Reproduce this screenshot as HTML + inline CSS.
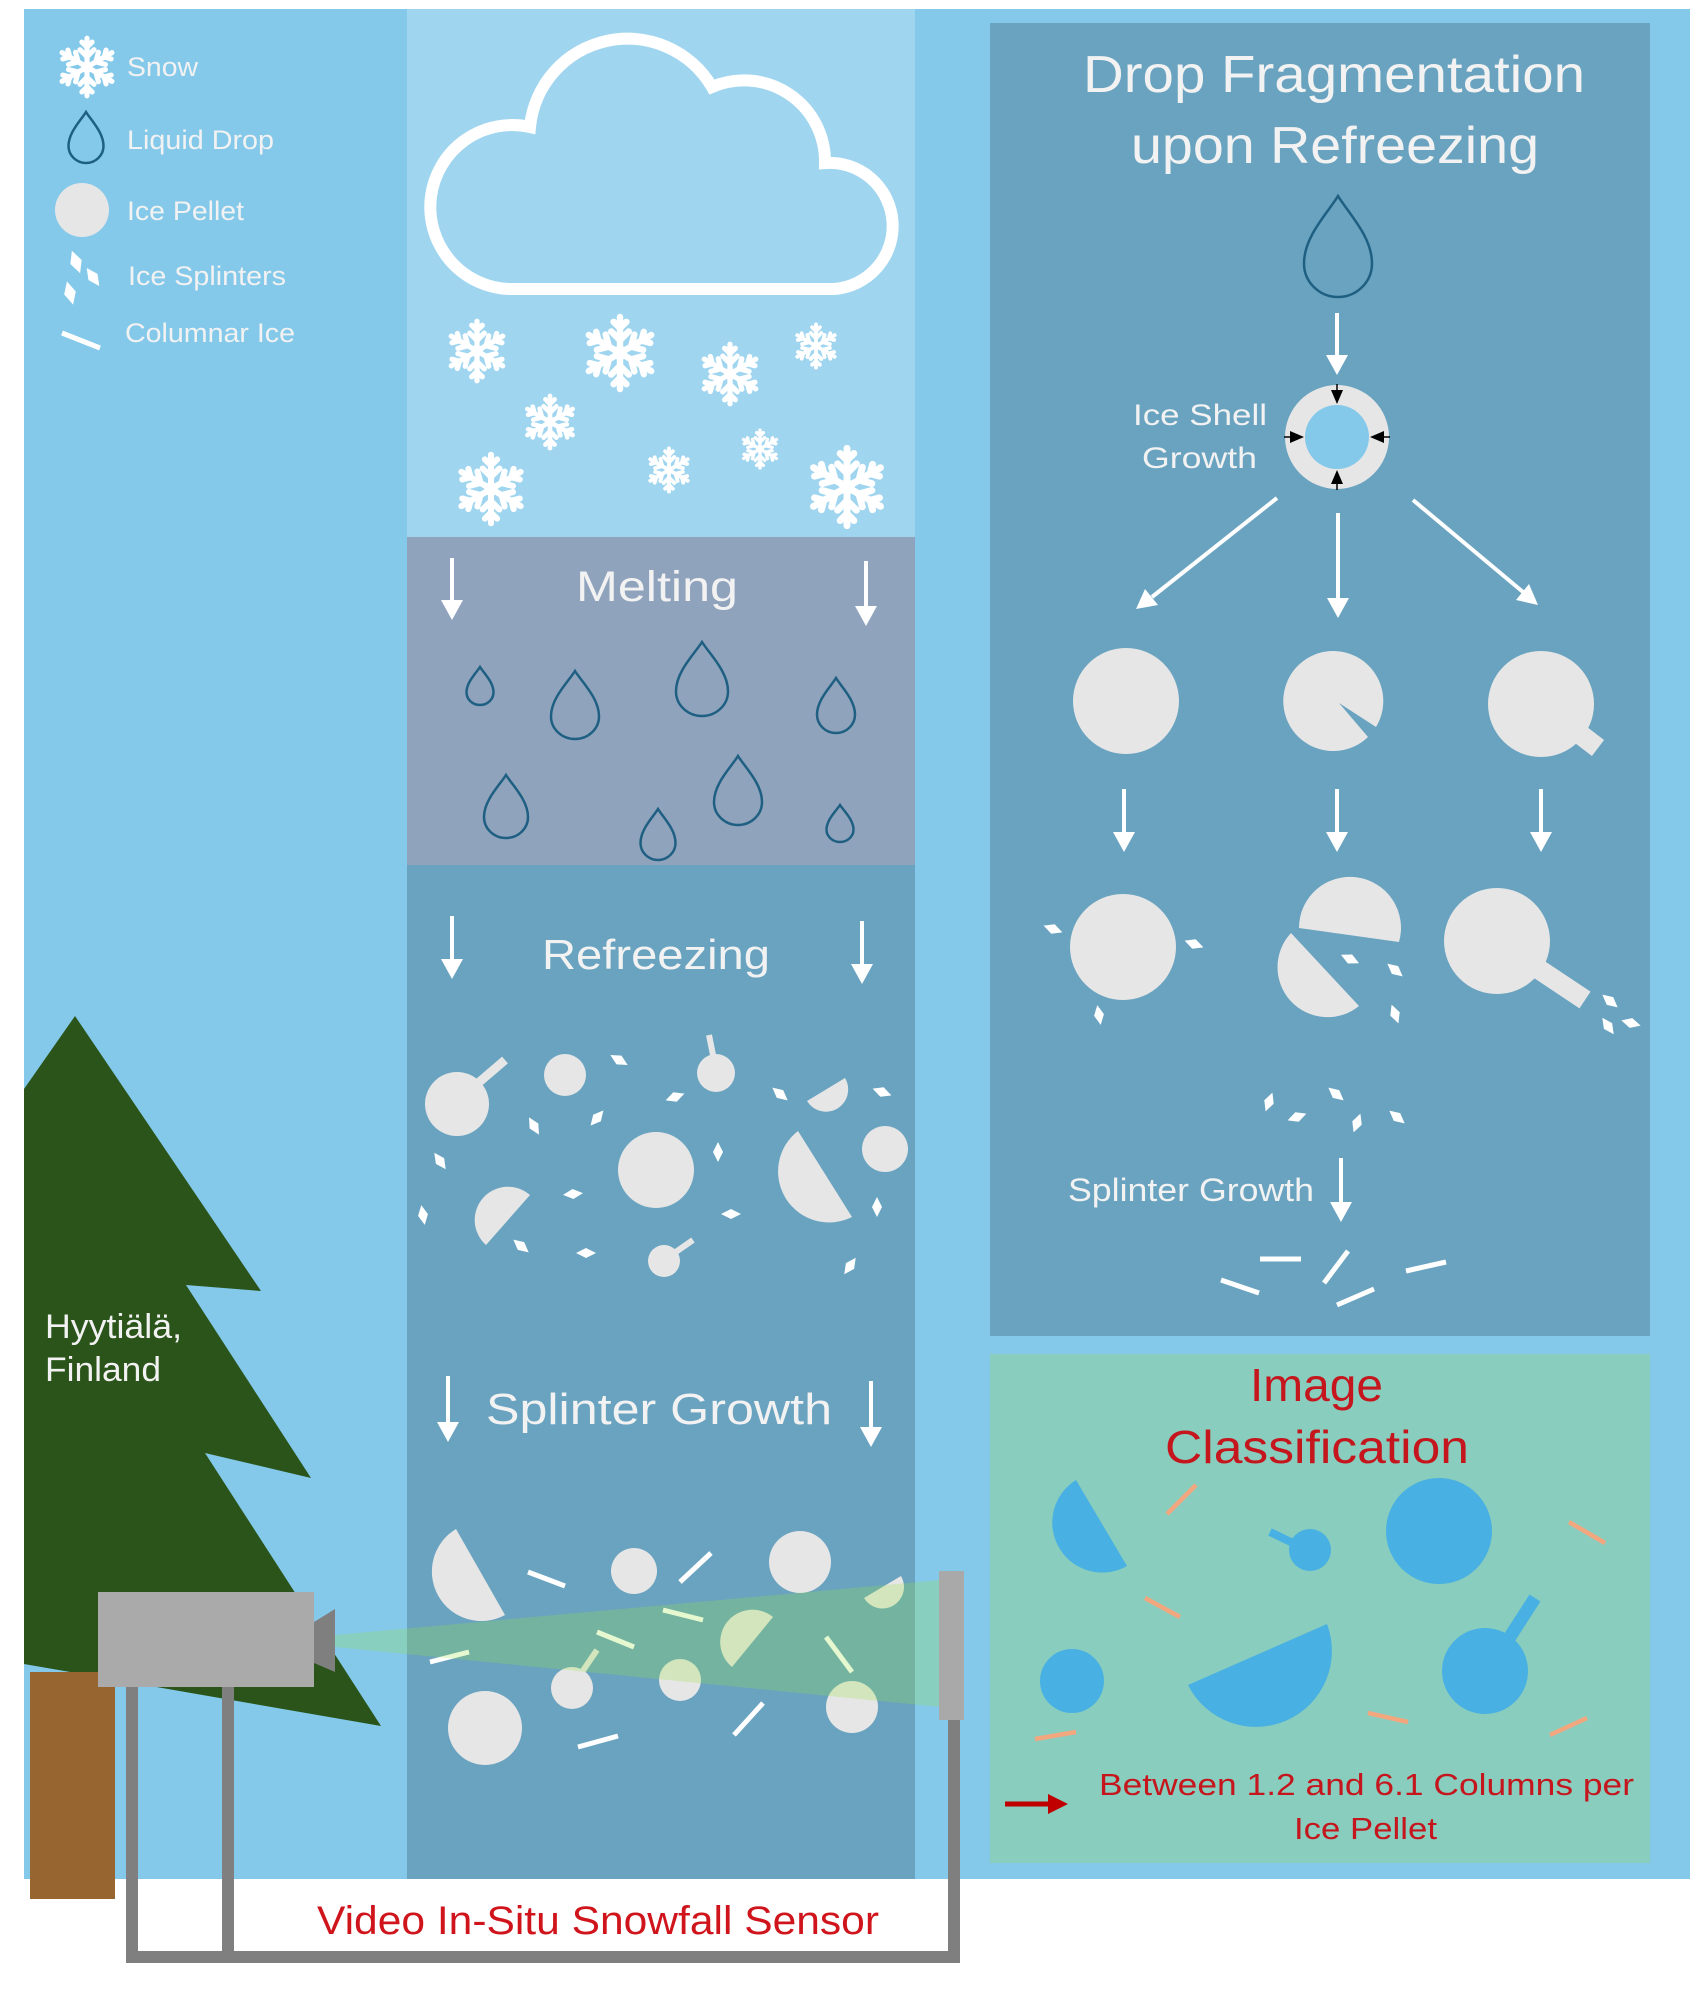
<!DOCTYPE html>
<html><head><meta charset="utf-8"><style>
html,body{margin:0;padding:0;background:#fff;}
svg{display:block;}
text{font-family:"Liberation Sans",sans-serif;}
</style></head><body>
<svg width="1699" height="2000" viewBox="0 0 1699 2000" xmlns="http://www.w3.org/2000/svg">
<defs>
<symbol id="flake" viewBox="-50 -50 100 100">
<g stroke="#fff" stroke-width="8" stroke-linecap="round" fill="none">
<g id="arm"><line x1="0" y1="0" x2="0" y2="-45"/><polyline points="-11,-27 0,-16 11,-27"/><polyline points="-8,-39 0,-31 8,-39"/></g>
<use href="#arm" transform="rotate(60)"/><use href="#arm" transform="rotate(120)"/><use href="#arm" transform="rotate(180)"/><use href="#arm" transform="rotate(240)"/><use href="#arm" transform="rotate(300)"/>
<circle cx="0" cy="0" r="9" fill="#fff" stroke="none"/>
</g>
</symbol>
<polygon id="sp" points="-10,0 0,-5 10,0 0,5"/>
</defs>

<!-- backgrounds -->
<rect x="24" y="9" width="1666" height="1870" fill="#84C9EA"/>
<rect x="407" y="9" width="508" height="528" fill="#A0D5EF"/>
<rect x="407" y="537" width="508" height="328" fill="#8FA3BD"/>
<rect x="407" y="865" width="508" height="1014" fill="#69A3C0"/>
<rect x="990" y="23" width="660" height="1313" fill="#69A3C0"/>
<rect x="990" y="1354" width="660" height="509" fill="#89CDBF"/>

<!-- legend -->
<use href="#flake" x="55" y="35" width="64" height="64"/>
<path d="M86,112 C91.25,120.5 103.5,132.4 103.5,146 A17.5,17 0 0 1 68.5,146 C68.5,132.4 80.75,120.5 86,112Z" fill="none" stroke="#1E5F82" stroke-width="2.5"/>
<circle cx="82" cy="210" r="27" fill="#E6E6E6"/>
<g fill="#fff">
<use href="#sp" transform="translate(76,262) rotate(70) scale(1.2)"/>
<use href="#sp" transform="translate(93,277) rotate(55) scale(1.1)"/>
<use href="#sp" transform="translate(70,293) rotate(75) scale(1.2)"/>
</g>
<line x1="62" y1="333" x2="100" y2="348" stroke="#fff" stroke-width="5"/>
<g fill="#F2F2F2" font-size="27">
<text x="127" y="76" textLength="71" lengthAdjust="spacingAndGlyphs">Snow</text>
<text x="127" y="149" textLength="147" lengthAdjust="spacingAndGlyphs">Liquid Drop</text>
<text x="127" y="220" textLength="117" lengthAdjust="spacingAndGlyphs">Ice Pellet</text>
<text x="128" y="285" textLength="158" lengthAdjust="spacingAndGlyphs">Ice Splinters</text>
<text x="125" y="342" textLength="170" lengthAdjust="spacingAndGlyphs">Columnar Ice</text>
</g>

<!-- cloud -->
<path d="M509,289 A82,82 0 1,1 530,127 A98,98 0 0,1 712,87 A81,81 0 0,1 825,163 A63,63 0 1,1 834,289 Z" fill="none" stroke="#fff" stroke-width="12"/>
<!-- snowflakes -->
<use href="#flake" x="444" y="318" width="66" height="66"/>
<use href="#flake" x="580" y="313" width="80" height="80"/>
<use href="#flake" x="697" y="341" width="66" height="66"/>
<use href="#flake" x="792" y="322" width="48" height="48"/>
<use href="#flake" x="521" y="393" width="58" height="58"/>
<use href="#flake" x="453" y="451" width="76" height="76"/>
<use href="#flake" x="645" y="446" width="48" height="48"/>
<use href="#flake" x="739" y="428" width="42" height="42"/>
<use href="#flake" x="804" y="444" width="86" height="86"/>

<!-- white arrows middle column -->
<g stroke="#fff" stroke-width="4" fill="#fff">
<line x1="452" y1="558" x2="452" y2="604"/><polygon points="441,600 463,600 452,620" stroke="none"/>
<line x1="866" y1="561" x2="866" y2="610"/><polygon points="855,606 877,606 866,626" stroke="none"/>
<line x1="452" y1="916" x2="452" y2="963"/><polygon points="441,959 463,959 452,979" stroke="none"/>
<line x1="862" y1="921" x2="862" y2="968"/><polygon points="851,964 873,964 862,984" stroke="none"/>
<line x1="448" y1="1376" x2="448" y2="1426"/><polygon points="437,1422 459,1422 448,1442" stroke="none"/>
<line x1="871" y1="1381" x2="871" y2="1431"/><polygon points="860,1427 882,1427 871,1447" stroke="none"/>
</g>
<g fill="#F2F2F2" text-anchor="start">
<text x="576" y="601" font-size="43" textLength="162" lengthAdjust="spacingAndGlyphs">Melting</text>
<text x="542" y="969" font-size="42" textLength="228" lengthAdjust="spacingAndGlyphs">Refreezing</text>
<text x="486" y="1424" font-size="44" textLength="346" lengthAdjust="spacingAndGlyphs">Splinter Growth</text>
</g>

<!-- drops melting -->
<g fill="none" stroke="#1E5F82" stroke-width="2.5">
<path d="M480,667 C484.05,673.33 493.5,682.2 493.5,692.33 A13.5,12.67 0 0 1 466.5,692.33 C466.5,682.2 475.95,673.33 480,667Z"/>
<path d="M575,671 C582.2,682.33 599,698.2 599,716.33 A24,22.67 0 0 1 551,716.33 C551,698.2 567.8,682.33 575,671Z"/>
<path d="M702,642 C709.8,654.33 728,671.6 728,691.33 A26,24.67 0 0 1 676,691.33 C676,671.6 694.2,654.33 702,642Z"/>
<path d="M836,678 C841.7,687.17 855,700 855,714.67 A19,18.33 0 0 1 817,714.67 C817,700 830.3,687.17 836,678Z"/>
<path d="M506,775 C512.6,785.5 528,800.2 528,817 A22,21 0 0 1 484,817 C484,800.2 499.4,785.5 506,775Z"/>
<path d="M658,809 C663.25,817.5 675.5,829.4 675.5,843 A17.5,17 0 0 1 640.5,843 C640.5,829.4 652.75,817.5 658,809Z"/>
<path d="M738,756 C745.2,767.5 762,783.6 762,802 A24,23 0 0 1 714,802 C714,783.6 730.8,767.5 738,756Z"/>
<path d="M840,805 C844.05,811.17 853.5,819.8 853.5,829.67 A13.5,12.33 0 0 1 826.5,829.67 C826.5,819.8 835.95,811.17 840,805Z"/>
</g>

<!-- refreezing shapes -->
<g fill="#E6E6E6" stroke="none">
<circle cx="457" cy="1104" r="32"/>
<line x1="470" y1="1090" x2="505" y2="1060" stroke="#E6E6E6" stroke-width="9"/>
<circle cx="565" cy="1075" r="21"/>
<circle cx="716" cy="1073" r="19"/>
<line x1="714" y1="1060" x2="709" y2="1035" stroke="#E6E6E6" stroke-width="6"/>
<circle cx="656" cy="1170" r="38"/>
<circle cx="885" cy="1149" r="23"/>
<path d="M807,1101 A22,22 0 0 0 845,1078 Z"/>
<path d="M798,1131 A51,51 0 0 0 852,1217 Z"/>
<path d="M530,1195 A33,33 0 0 0 486,1245 Z"/>
<circle cx="664" cy="1261" r="16"/>
<line x1="670" y1="1256" x2="693" y2="1240" stroke="#E6E6E6" stroke-width="6"/>
</g>
<g fill="#fff">
<use href="#sp" transform="translate(619,1060) rotate(30)"/>
<use href="#sp" transform="translate(675,1097) rotate(-20)"/>
<use href="#sp" transform="translate(597,1118) rotate(-50)"/>
<use href="#sp" transform="translate(534,1126) rotate(60)"/>
<use href="#sp" transform="translate(440,1161) rotate(55)"/>
<use href="#sp" transform="translate(573,1194) rotate(-5)"/>
<use href="#sp" transform="translate(423,1215) rotate(80)"/>
<use href="#sp" transform="translate(521,1246) rotate(40)"/>
<use href="#sp" transform="translate(586,1253) rotate(0)"/>
<use href="#sp" transform="translate(718,1152) rotate(90)"/>
<use href="#sp" transform="translate(731,1214) rotate(0)"/>
<use href="#sp" transform="translate(877,1207) rotate(90)"/>
<use href="#sp" transform="translate(850,1266) rotate(-55)"/>
<use href="#sp" transform="translate(780,1094) rotate(40)"/>
<use href="#sp" transform="translate(882,1092) rotate(20)"/>
</g>

<!-- splinter growth shapes (bottom middle) -->
<g fill="#E6E6E6">
<path d="M456,1529 A49.5,49.5 0 0 0 505,1615 Z"/>
<circle cx="634" cy="1571" r="23"/>
<circle cx="800" cy="1562" r="31"/>
<path d="M864,1598 A21.5,21.5 0 0 0 901,1576 Z"/>
<path d="M732,1667 A32,32 0 0 1 773,1617 Z"/>
<circle cx="572" cy="1688" r="21"/>
<line x1="580" y1="1675" x2="597" y2="1650" stroke="#E6E6E6" stroke-width="6"/>
<circle cx="680" cy="1680" r="21"/>
<circle cx="852" cy="1707" r="26"/>
<circle cx="485" cy="1728" r="37"/>
</g>
<g stroke="#fff" stroke-width="5">
<line x1="528" y1="1572" x2="565" y2="1586"/>
<line x1="680" y1="1582" x2="711" y2="1553"/>
<line x1="663" y1="1610" x2="703" y2="1620"/>
<line x1="597" y1="1632" x2="634" y2="1647"/>
<line x1="826" y1="1637" x2="852" y2="1672"/>
<line x1="430" y1="1662" x2="469" y2="1652"/>
<line x1="734" y1="1735" x2="763" y2="1703"/>
<line x1="578" y1="1747" x2="618" y2="1736"/>
</g>

<!-- tree -->
<polygon points="75,1016 261,1291 186,1285 311,1478 205,1453 381,1726 24,1664 24,1089" fill="#2A5419"/>
<rect x="30" y="1672" width="85" height="227" fill="#97652F"/>

<!-- frame legs -->
<g stroke="#7F7F7F" stroke-width="12" fill="none">
<line x1="132" y1="1687" x2="132" y2="1957"/>
<line x1="228" y1="1687" x2="228" y2="1957"/>
<line x1="126" y1="1957" x2="960" y2="1957"/>
<line x1="954" y1="1720" x2="954" y2="1957"/>
</g>

<!-- camera -->
<rect x="98" y="1592" width="216" height="95" fill="#AAAAAA"/>
<polygon points="314,1622 335,1609 335,1672 314,1663" fill="#7F7F7F"/>
<!-- beam -->
<polygon points="335,1635 941,1580 941,1707 335,1647" fill="rgb(152,228,64)" fill-opacity="0.25"/>
<rect x="939" y="1571" width="25" height="149" fill="#A9A9A9"/>

<g fill="#F2F2F2" font-size="34">
<text x="45" y="1338" textLength="137" lengthAdjust="spacingAndGlyphs">Hyytiälä,</text>
<text x="45" y="1381" textLength="116" lengthAdjust="spacingAndGlyphs">Finland</text>
</g>
<text x="317" y="1934" font-size="40" fill="#D0141C" textLength="562" lengthAdjust="spacingAndGlyphs">Video In-Situ Snowfall Sensor</text>

<!-- right panel -->
<g fill="#F2F2F2">
<text x="1083" y="92" font-size="52" textLength="502" lengthAdjust="spacingAndGlyphs">Drop Fragmentation</text>
<text x="1131" y="163" font-size="52" textLength="408" lengthAdjust="spacingAndGlyphs">upon Refreezing</text>
<text x="1133" y="425" font-size="30" textLength="134" lengthAdjust="spacingAndGlyphs">Ice Shell</text>
<text x="1142" y="468" font-size="30" textLength="115" lengthAdjust="spacingAndGlyphs">Growth</text>
<text x="1068" y="1201" font-size="32" textLength="246" lengthAdjust="spacingAndGlyphs">Splinter Growth</text>
</g>
<path d="M1338,196 C1348.2,212.83 1372,236.4 1372,263.33 A34,33.67 0 0 1 1304,263.33 C1304,236.4 1327.8,212.83 1338,196Z" fill="none" stroke="#1E5F82" stroke-width="2.5"/>
<g stroke="#fff" stroke-width="4" fill="#fff">
<line x1="1337" y1="313" x2="1337" y2="359"/><polygon points="1326,355 1348,355 1337,375" stroke="none"/>
<line x1="1277" y1="498" x2="1152" y2="597"/><polygon points="1158,605 1145,589 1136,609" stroke="none"/>
<line x1="1338" y1="513" x2="1338" y2="602"/><polygon points="1327,598 1349,598 1338,618" stroke="none"/>
<line x1="1413" y1="500" x2="1523" y2="592"/><polygon points="1516,600 1529,584 1538,605" stroke="none"/>
<line x1="1124" y1="789" x2="1124" y2="836"/><polygon points="1113,832 1135,832 1124,852" stroke="none"/>
<line x1="1337" y1="789" x2="1337" y2="836"/><polygon points="1326,832 1348,832 1337,852" stroke="none"/>
<line x1="1541" y1="789" x2="1541" y2="836"/><polygon points="1530,832 1552,832 1541,852" stroke="none"/>
<line x1="1341" y1="1158" x2="1341" y2="1206"/><polygon points="1330,1202 1352,1202 1341,1222" stroke="none"/>
</g>
<!-- ice shell -->
<circle cx="1337" cy="437" r="52" fill="#E6E6E6"/>
<circle cx="1337" cy="437" r="32" fill="#84C9EA"/>
<g fill="#000" stroke="#000" stroke-width="1.5">
<polygon points="1331,390 1343,390 1337,404" stroke="none"/><line x1="1337" y1="384" x2="1337" y2="392"/>
<polygon points="1331,484 1343,484 1337,470" stroke="none"/><line x1="1337" y1="482" x2="1337" y2="490"/>
<polygon points="1290,431 1290,443 1304,437" stroke="none"/><line x1="1284" y1="437" x2="1292" y2="437"/>
<polygon points="1384,431 1384,443 1370,437" stroke="none"/><line x1="1382" y1="437" x2="1390" y2="437"/>
</g>
<!-- row 1 -->
<g fill="#E6E6E6">
<circle cx="1126" cy="701" r="53"/>
<path d="M1339,703 L1376,727 A50,50 0 1 0 1368,737 Z"/>
<circle cx="1541" cy="704" r="53"/>
<line x1="1560" y1="719" x2="1598" y2="748" stroke="#E6E6E6" stroke-width="20"/>
<!-- row 2 -->
<circle cx="1123" cy="947" r="53"/>
<path d="M1299,928 A51,51 0 1 1 1399,942 Z"/>
<path d="M1291,933 A50,50 0 0 0 1359,1006 Z"/>
<circle cx="1497" cy="941" r="53"/>
<line x1="1510" y1="950" x2="1585" y2="1000" stroke="#E6E6E6" stroke-width="20"/>
</g>
<g fill="#fff">
<use href="#sp" transform="translate(1053,929) rotate(20)"/>
<use href="#sp" transform="translate(1194,944) rotate(20)"/>
<use href="#sp" transform="translate(1099,1015) rotate(80)"/>
<use href="#sp" transform="translate(1350,959) rotate(25)"/>
<use href="#sp" transform="translate(1395,970) rotate(40)"/>
<use href="#sp" transform="translate(1395,1014) rotate(70)"/>
<use href="#sp" transform="translate(1610,1001) rotate(40)"/>
<use href="#sp" transform="translate(1631,1023) rotate(15)"/>
<use href="#sp" transform="translate(1608,1026) rotate(55)"/>
<use href="#sp" transform="translate(1269,1102) rotate(-70)"/>
<use href="#sp" transform="translate(1297,1117) rotate(-20)"/>
<use href="#sp" transform="translate(1336,1094) rotate(40)"/>
<use href="#sp" transform="translate(1357,1123) rotate(-70)"/>
<use href="#sp" transform="translate(1397,1117) rotate(40)"/>
</g>
<g stroke="#fff" stroke-width="5">
<line x1="1260" y1="1259" x2="1301" y2="1259"/>
<line x1="1221" y1="1280" x2="1259" y2="1293"/>
<line x1="1324" y1="1283" x2="1348" y2="1251"/>
<line x1="1337" y1="1305" x2="1374" y2="1289"/>
<line x1="1406" y1="1271" x2="1446" y2="1262"/>
</g>

<!-- image classification -->
<g fill="#C4161C">
<text x="1250" y="1401" font-size="46" textLength="133" lengthAdjust="spacingAndGlyphs">Image</text>
<text x="1165" y="1463" font-size="46" textLength="304" lengthAdjust="spacingAndGlyphs">Classification</text>
<text x="1099" y="1795" font-size="31" textLength="535" lengthAdjust="spacingAndGlyphs">Between 1.2 and 6.1 Columns per</text>
<text x="1294" y="1839" font-size="31" textLength="143" lengthAdjust="spacingAndGlyphs">Ice Pellet</text>
</g>
<g fill="#48B0E2">
<path d="M1076,1480 A50,50 0 0 0 1127,1566 Z"/>
<circle cx="1310" cy="1550" r="21"/>
<line x1="1270" y1="1532" x2="1295" y2="1544" stroke="#48B0E2" stroke-width="8"/>
<circle cx="1439" cy="1531" r="53"/>
<circle cx="1072" cy="1681" r="32"/>
<path d="M1188,1685 A76,76 0 0 0 1327,1624 Z"/>
<circle cx="1485" cy="1671" r="43"/>
<line x1="1495" y1="1660" x2="1535" y2="1598" stroke="#48B0E2" stroke-width="13"/>
</g>
<g stroke="#F2A77E" stroke-width="4.5">
<line x1="1167" y1="1514" x2="1196" y2="1485"/>
<line x1="1569" y1="1522" x2="1605" y2="1543"/>
<line x1="1145" y1="1598" x2="1180" y2="1617"/>
<line x1="1035" y1="1739" x2="1076" y2="1732"/>
<line x1="1368" y1="1713" x2="1408" y2="1722"/>
<line x1="1550" y1="1735" x2="1587" y2="1718"/>
</g>
<line x1="1005" y1="1804" x2="1052" y2="1804" stroke="#C00000" stroke-width="5"/>
<polygon points="1048,1794 1068,1804 1048,1814" fill="#C00000"/>
</svg>
</body></html>
